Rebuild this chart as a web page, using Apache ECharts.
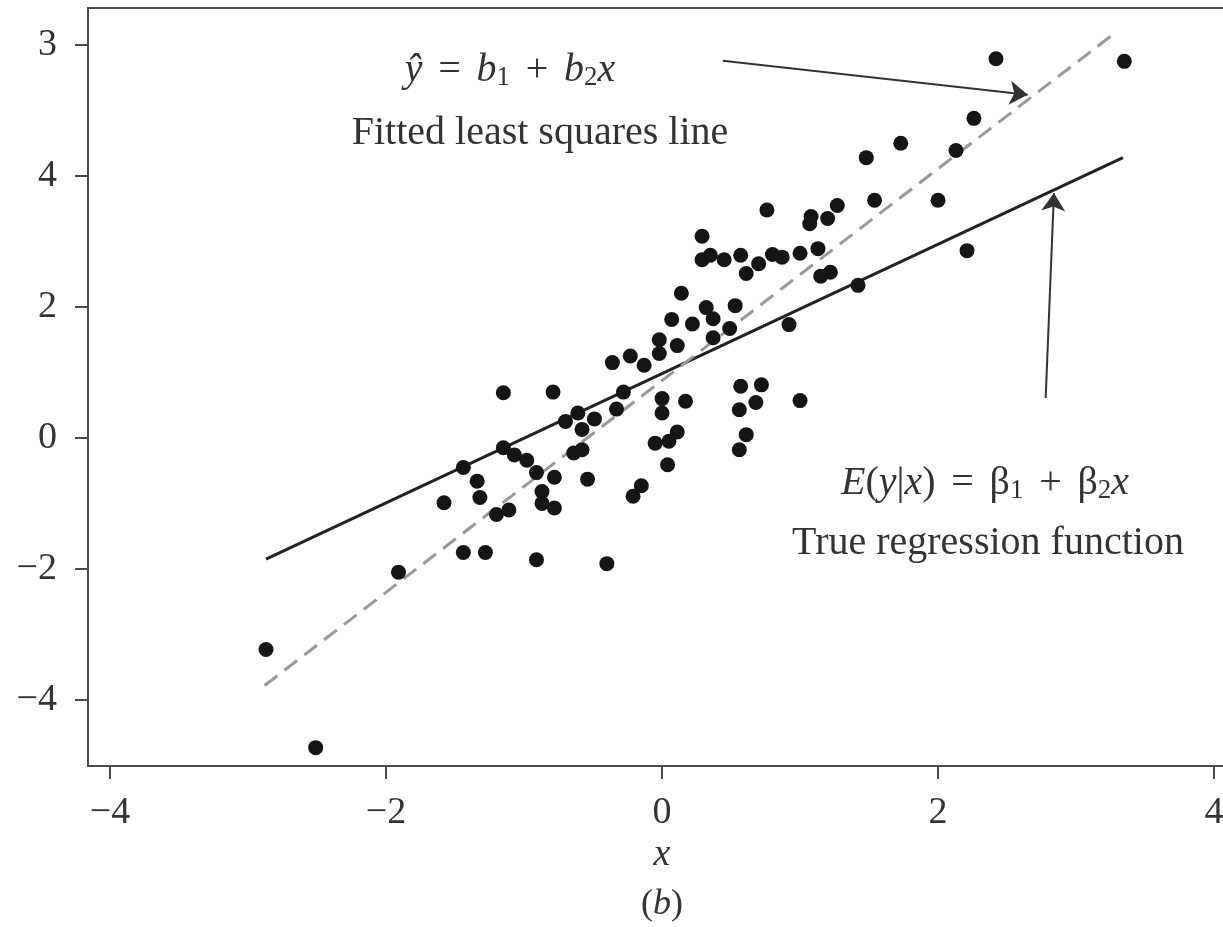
<!DOCTYPE html>
<html>
<head>
<meta charset="utf-8">
<script src="https://cdn.jsdelivr.net/npm/echarts@6/dist/echarts.min.js"></script>
<style>
  html, body { margin: 0; padding: 0; background: #fff; }
  #chart { width: 1223px; height: 927px; }
</style>
</head>
<body>
<div id="chart"></div>
<script>
  // sample points
  const pointX = [-2.87, -2.51, -1.91, -1.58, -1.44, -1.44, -1.34, -1.32, -1.28, -1.20,
    -1.15, -1.15, -1.11, -1.07, -0.98, -0.91, -0.91, -0.87, -0.87, -0.79,
    -0.78, -0.78, -0.70, -0.64, -0.61, -0.58, -0.58, -0.54, -0.49, -0.40,
    -0.36, -0.33, -0.28, -0.23, -0.21, -0.15, -0.13, -0.05, -0.02, -0.02,
    0.00, 0.00, 0.04, 0.05, 0.07, 0.11, 0.11, 0.14, 0.17, 0.22,
    0.29, 0.29, 0.32, 0.35, 0.37, 0.37, 0.45, 0.49, 0.53, 0.57,
    0.56, 0.57, 0.56, 0.61, 0.61, 0.68, 0.70, 0.72, 0.76, 0.80,
    0.87, 0.92, 1.00, 1.00, 1.07, 1.08, 1.13, 1.15, 1.20, 1.22,
    1.27, 1.42, 1.48, 1.54, 1.73, 2.00, 2.13, 2.21, 2.26, 2.42, 3.35]
  const pointY = [-3.23, -4.73, -2.05, -0.99, -0.45, -1.75, -0.66, -0.91, -1.75, -1.17,
    0.69, -0.15, -1.10, -0.26, -0.34, -0.53, -1.86, -0.82, -1.00, 0.70,
    -0.60, -1.07, 0.25, -0.23, 0.38, -0.18, 0.13, -0.63, 0.29, -1.92,
    1.15, 0.44, 0.70, 1.25, -0.89, -0.73, 1.11, -0.08, 1.50, 1.29,
    0.60, 0.38, -0.41, -0.05, 1.81, 1.41, 0.09, 2.21, 0.56, 1.74,
    3.08, 2.72, 1.99, 2.79, 1.82, 1.53, 2.72, 1.67, 2.02, 2.79,
    0.43, 0.79, -0.18, 2.51, 0.05, 0.54, 2.66, 0.81, 3.48, 2.80,
    2.76, 1.73, 2.82, 0.57, 3.27, 3.38, 2.89, 2.47, 3.35, 2.53,
    3.55, 2.33, 4.28, 3.63, 4.50, 3.63, 4.39, 2.86, 4.88, 5.79, 5.75]

  // line ends
  const fittedLine = [[-2.88, -3.78], [3.28, 6.18]]
  const trueLine = [[-2.87, -1.85], [3.34, 4.28]]
  const arrowFitted = [[0.44, 5.76], [2.65, 5.24]]
  const arrowTrue = [[2.78, 0.61], [2.84, 3.74]]

  // ticks
  const xTicks = [-4, -2, 0, 2, 4]
  const xTickLabels = ['−4', '−2', '0', '2', '4']
  const yTicks = [-4, -2, 0, 2, 4, 6]
  const yTickLabels = ['−4', '−2', '0', '2', '4', '3']

  const serif = '"Liberation Serif", "DejaVu Serif", serif'
  const ink = '#333'

  const myChart = echarts.init(document.getElementById('chart'))

  // math-ish rich styles for the formulas
  const mathRich = {
    i: { fontStyle: 'italic', fontFamily: serif, fontSize: 40, lineHeight: 42 },
    o: { fontFamily: serif, fontSize: 40, lineHeight: 42, width: 54, align: 'center' },
    s: { fontFamily: serif, fontSize: 27, verticalAlign: 'bottom', lineHeight: 30 }
  }

  let option = {
    animation: false,
    backgroundColor: '#fff',
    grid: {
      left: 88,
      top: 8,
      bottom: 161,
      right: -20,
      outerBoundsMode: 'none',
      containLabel: false,
      show: true,
      borderColor: '#4a4a4a',
      borderWidth: 2
    },
    xAxis: {
      type: 'value',
      min: -4.16,
      max: 4.21,
      splitLine: { show: false },
      axisLine: { show: false, onZero: false },
      axisTick: {
        show: true,
        customValues: xTicks,
        length: 13,
        lineStyle: { color: '#4a4a4a', width: 2 }
      },
      axisLabel: {
        customValues: xTicks,
        margin: 28,
        fontFamily: serif,
        fontSize: 38,
        color: ink,
        formatter: (v) => xTickLabels[xTicks.indexOf(v)]
      }
    },
    yAxis: {
      type: 'value',
      min: -5.01,
      max: 6.565,
      splitLine: { show: false },
      axisLine: { show: false, onZero: false },
      axisTick: {
        show: true,
        customValues: yTicks,
        length: 13,
        lineStyle: { color: '#4a4a4a', width: 2 }
      },
      axisLabel: {
        customValues: yTicks,
        margin: 31,
        fontFamily: serif,
        fontSize: 38,
        color: ink,
        formatter: (v) => yTickLabels[yTicks.indexOf(v)]
      }
    },
    series: [{
      type: 'line',
      data: trueLine,
      showSymbol: false,
      silent: true,
      lineStyle: { color: '#222', width: 3 },
      markLine: {
        silent: true,
        symbol: ['none', 'arrow'],
        symbolSize: 18,
        label: { show: false },
        lineStyle: { color: '#333', width: 2, type: 'solid' },
        data: [
          [{ coord: arrowFitted[0] }, { coord: arrowFitted[1] }],
          [{ coord: arrowTrue[0] }, { coord: arrowTrue[1] }]
        ]
      }
    }, {
      type: 'line',
      data: fittedLine,
      showSymbol: false,
      silent: true,
      lineStyle: { color: '#999', width: 3, type: [16, 9] }
    }, {
      type: 'scatter',
      z: 5,
      symbolSize: 15,
      itemStyle: { color: '#151515', opacity: 1 },
      data: pointX.map((x, i) => [x, pointY[i]])
    }],
    graphic: [{
      type: 'text', x: 510, y: 70,
      style: {
        text: '{i|ŷ}{o|=}{i|b}{s|1}{o|+}{i|b}{s|2}{i|x}',
        align: 'center', verticalAlign: 'middle',
        fill: ink, fontFamily: serif, fontSize: 40,
        rich: mathRich
      }
    }, {
      type: 'text', x: 540, y: 133,
      style: {
        text: 'Fitted least squares line',
        align: 'center', verticalAlign: 'middle',
        fill: ink, fontFamily: serif, fontSize: 40
      }
    }, {
      type: 'text', x: 985, y: 483,
      style: {
        text: '{i|E}({i|y}|{i|x}){o|=}β{s|1}{o|+}β{s|2}{i|x}',
        align: 'center', verticalAlign: 'middle',
        fill: ink, fontFamily: serif, fontSize: 40,
        rich: mathRich
      }
    }, {
      type: 'text', x: 988, y: 543,
      style: {
        text: 'True regression function',
        align: 'center', verticalAlign: 'middle',
        fill: ink, fontFamily: serif, fontSize: 40
      }
    }, {
      type: 'text', x: 662, y: 855,
      style: {
        text: 'x',
        align: 'center', verticalAlign: 'middle',
        fill: ink, fontFamily: serif, fontSize: 38, fontStyle: 'italic'
      }
    }, {
      type: 'text', x: 662, y: 905,
      style: {
        text: '({i|b})',
        align: 'center', verticalAlign: 'middle',
        fill: ink, fontFamily: serif, fontSize: 36,
        rich: {
          i: { fontStyle: 'italic', fontFamily: serif, fontSize: 36 }
        }
      }
    }]
  }

  myChart.setOption(option)
</script>
</body>
</html>
